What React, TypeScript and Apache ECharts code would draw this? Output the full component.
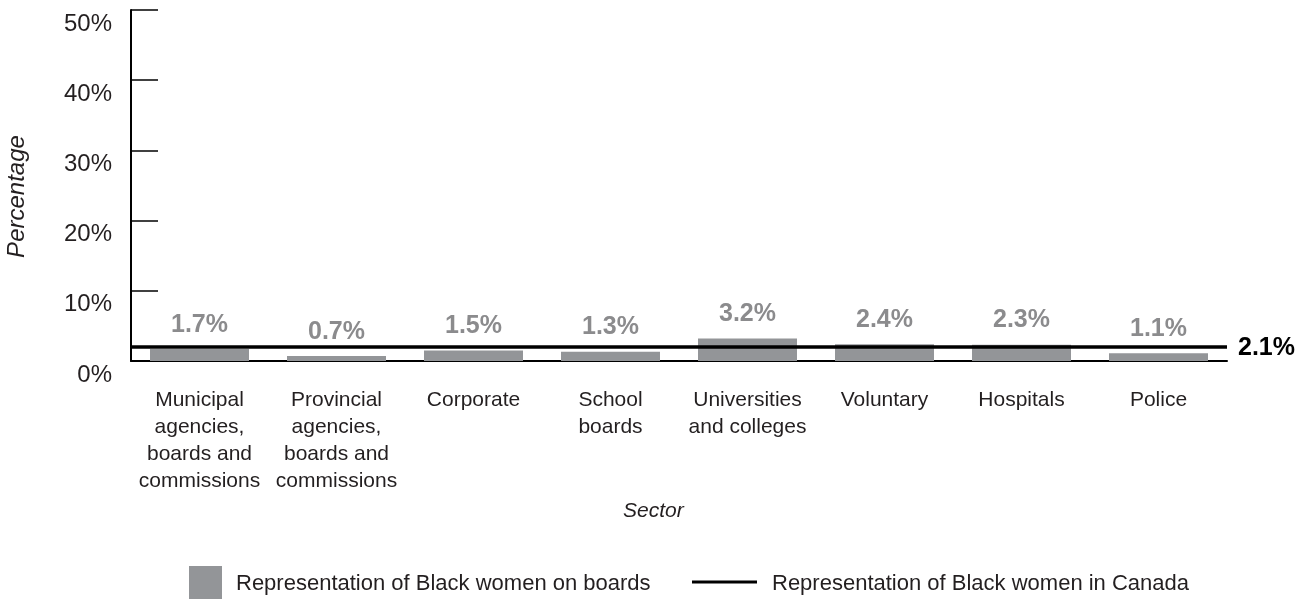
import React, { useEffect, useRef } from "react";
import * as echarts from "echarts";

const categories = [
  "Municipal\nagencies,\nboards and\ncommissions",
  "Provincial\nagencies,\nboards and\ncommissions",
  "Corporate",
  "School\nboards",
  "Universities\nand colleges",
  "Voluntary",
  "Hospitals",
  "Police",
];
const boardValues = [1.7, 0.7, 1.5, 1.3, 3.2, 2.4, 2.3, 1.1];
const canadaValue = 2.1;
const barSeriesName = "Representation of Black women on boards";
const lineSeriesName = "Representation of Black women in Canada";

const FONT = "'Liberation Sans', Arial, Helvetica, sans-serif";
const TEXT = "#231f20";

export default function App() {
  const ref = useRef<HTMLDivElement>(null);
  useEffect(() => {
    document.body.style.margin = "0";
    const chart = echarts.init(ref.current!, null, { renderer: "svg" });
    chart.setOption({
      animation: false,
      textStyle: { fontFamily: FONT },
      grid: { left: 131, right: 82, top: 10, bottom: 238, containLabel: false, outerBoundsMode: "none" },
      legend: [
        {
          data: [{ name: barSeriesName, icon: "rect" }],
          left: 189,
          top: 566,
          padding: 0,
          itemWidth: 33,
          itemHeight: 33,
          selectedMode: false,
          textStyle: { fontFamily: FONT, fontSize: 22, color: TEXT, padding: [0, 0, 0, 9] },
        },
        {
          data: [{ name: lineSeriesName, icon: "rect", itemStyle: { color: "#000" } }],
          left: 692,
          top: 570,
          padding: 0,
          itemWidth: 65,
          itemHeight: 3,
          selectedMode: false,
          textStyle: { fontFamily: FONT, fontSize: 22, color: TEXT, lineHeight: 24, padding: [0, 0, 0, 10] },
        },
      ],
      xAxis: {
        type: "category",
        data: categories,
        axisLine: { lineStyle: { color: "#000", width: 2 } },
        axisTick: { show: false },
        axisLabel: {
          interval: 0,
          fontFamily: FONT,
          fontSize: 21,
          lineHeight: 27,
          color: TEXT,
          margin: 24,
        },
      },
      yAxis: {
        type: "value",
        min: 0,
        max: 50,
        interval: 10,
        name: "Percentage",
        nameLocation: "middle",
        nameGap: 104,
        nameTextStyle: {
          fontFamily: FONT,
          fontSize: 24,
          fontStyle: "italic",
          color: TEXT,
          padding: [0, 22, 0, 0],
        },
        axisLine: { show: true, lineStyle: { color: "#000", width: 2 } },
        axisTick: { show: true, inside: true, length: 27, lineStyle: { color: "#000", width: 1.5 } },
        splitLine: { show: false },
        axisLabel: {
          formatter: "{value}%",
          fontFamily: FONT,
          fontSize: 24,
          color: TEXT,
          margin: 19,
          verticalAlign: "top",
        },
      },
      graphic: [
        {
          type: "text",
          left: 623,
          top: 499,
          style: { text: "Sector", font: `italic 21px ${FONT}`, fill: TEXT },
        },
      ],
      series: [
        {
          name: barSeriesName,
          type: "bar",
          data: boardValues,
          barWidth: 99,
          itemStyle: { color: "#939598" },
          label: {
            show: true,
            position: "top",
            distance: 14,
            formatter: "{c}%",
            fontFamily: FONT,
            fontSize: 25,
            fontWeight: "bold",
            color: "#8b8b8d",
          },
        },
        {
          name: lineSeriesName,
          type: "line",
          data: [],
          symbol: "none",
          lineStyle: { color: "#000", width: 3.5 },
          itemStyle: { color: "#000" },
          markLine: {
            silent: true,
            symbol: "none",
            lineStyle: { color: "#000", width: 3.5, type: "solid" },
            label: {
              show: true,
              position: "end",
              distance: 11,
              formatter: `${canadaValue}%`,
              fontFamily: FONT,
              fontSize: 25,
              fontWeight: "bold",
              color: "#000",
            },
            data: [{ yAxis: canadaValue }],
          },
        },
      ],
    });
    return () => chart.dispose();
  }, []);
  return <div ref={ref} style={{ position: "fixed", left: 0, top: 0, width: 1309, height: 599 }} />;
}
